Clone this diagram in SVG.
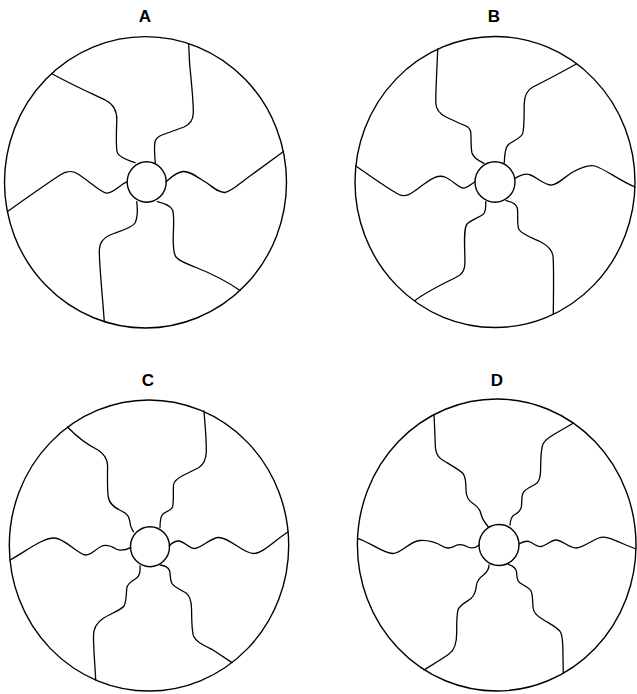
<svg xmlns="http://www.w3.org/2000/svg" width="637" height="694" viewBox="0 0 637 694">
<style>
.o{fill:none;stroke:#000;stroke-width:1.4}
.s{fill:none;stroke:#000;stroke-width:1.3;stroke-linecap:round;stroke-linejoin:round}
.l{font-family:"Liberation Sans",Arial,sans-serif;font-weight:bold;font-size:17px;text-anchor:middle;fill:#000}
</style>
<rect width="637" height="694" fill="#fff"/>
<g id="panelA">
<text class="l" x="145" y="22">A</text>
<ellipse class="o" cx="145.5" cy="182.3" rx="141" ry="145.7"/>
<ellipse class="o" cx="146.7" cy="182" rx="19.5" ry="20.2"/>
<g id="spokesA">
<path class="s" d="M155.3,162.7 C154.6,155 154,147 155,142 C156,138 158,136.5 162,135 L184,127 C189,125 193,121 193.3,113 C193.5,100 191,80 189.5,62 L188.7,43.8"/>
<path class="s" d="M166,181.7 C170,178.5 176,172 183,171.5 C190,171 197,177 207,183 C214,188 219,193 225,192.5 C231,192 240,183 250,176 L283.5,151.5"/>
<path class="s" d="M157.3,201.7 C163,203 170,205 172.5,210 C174.5,215 173.5,225 173.3,235 C173,245 173,253 176,257 C179,261 186,263.5 195,267 C210,273 225,280 240,290.5"/>
<path class="s" d="M136.7,201.7 C137.5,208 137.5,218 135,223 C132,228 120,231 110,235 C103,238 99.5,242 99.3,250 C99.2,265 102,290 104.3,321.6"/>
<path class="s" d="M127.3,181.7 C121,184 113,193.5 107,193.2 C101,193 88,180 78,174 C71,170 66,171 60,175 C45,185 25,199 7.5,211.5"/>
<path class="s" d="M135,162.7 C128,160 120,158 117.5,153 C115.5,148 116.5,130 116.8,120 C117,110 113,104 106,100.5 C95,95 70,84 51.7,73.5"/>
</g>
</g>
<g id="panelB">
<text class="l" x="494" y="22">B</text>
<ellipse class="o" cx="495" cy="182" rx="140" ry="145.5"/>
<ellipse class="o" cx="495" cy="182" rx="20" ry="20.3"/>
<g id="spokesB">
<path class="s" d="M484,163.3 C479,161 473.5,158 472,153 C470.5,147 471.5,135 470.5,131 C469.5,127 466,126 460,123.5 L446,117 C440,114 436,110 435.8,103 C435.6,90 437,70 437.7,49"/>
<path class="s" d="M504.3,162.7 C504.6,156 504.5,149 508,145 C512,141 520,139 522.5,134 C524.5,129 524,115 524.2,104 C524.4,95 527,90 533,87 C545,81 562,72 576.7,63.8"/>
<path class="s" d="M515,178.3 C519,176 524,173 529,174.5 C535,176 543,184 550,185 C556,186 562,179 572,172.5 C580,168 588,164 595,166 C605,169 620,181 634.9,187"/>
<path class="s" d="M506,200.7 C511,201.5 516,203 517.3,208 C518.5,213 516.5,225 519,229.5 C521.5,234 530,237 540,241.5 C547,245 552,249 553,256 C554,265 553.5,290 553.3,314.3"/>
<path class="s" d="M485.7,201.7 C486,207 486,212 483,214.5 C479,217.5 471,220 467,224 C464,228 464.3,240 464.8,255 C465.2,266 465,271 460,275 C452,280 430,289 415,300.5"/>
<path class="s" d="M475,181.7 C471,184 467,188.5 463,188 C458,187 452,180 445,177 C437,174 430,180 420,187 C412,193 406,198 399,194.5 C390,190 372,177 355.8,166"/>
</g>
</g>
<g id="panelC">
<text class="l" x="148" y="386">C</text>
<ellipse class="o" cx="149" cy="545.5" rx="139.7" ry="145.5"/>
<ellipse class="o" cx="150" cy="546.7" rx="19.5" ry="20"/>
<g id="spokesC">
<path class="s" d="M160,527.7 C160,522 160,516.5 163,514 C166,511 171,511 172.5,507 C174,502 173,490 173.5,485 C174,481 177,478.5 183,475.5 L199,467.5 C204,464 206,459 206.3,452 C206.6,440 205,425 204,411"/>
<path class="s" d="M169.3,545.7 C172,543 175,541 178.5,541 C184,541 189,548.5 194.5,548.5 C201,548.5 211,537.5 218.5,537.5 C230,537.5 243,553.5 253.5,553.5 C263,553.5 275,540 288.2,531.7"/>
<path class="s" d="M160,565 C164,565.5 168.5,567 169.7,571 C170.5,575 170,580 172,583.5 C174,587 181,590 186,593 C190,596 191.3,601 191.5,608 C191.8,618 191.5,630 193.5,636 C196,642 203,645 213,650 L232,662.6"/>
<path class="s" d="M140,566 C140.5,571 140,576 136,578.5 C132,581 127.5,583 126.8,588 C126.2,594 126.5,602 124,606 C121,610 110,614 103,618.5 C96,623 93.5,628 93.5,636 C93.5,650 95,665 95.7,680"/>
<path class="s" d="M130.7,547.7 C126,550 121,551.5 116,549 C112,546.5 106,544 101,546.5 C96,549 91,555 86,555 C78,555 65,538 54,538 C42,538 25,552 10,560"/>
<path class="s" d="M133.3,531.7 C131,528 129.8,524 129.5,520 C129,516 126,513 121.5,511 C116,508.5 110,505 108.5,498 C107,492 107.5,478 107.6,466 C107.7,459 104,454 98,450 C90,446 78,438 67.5,427"/>
</g>
</g>
<g id="panelD">
<text class="l" x="497" y="386">D</text>
<ellipse class="o" cx="496.7" cy="545" rx="139.3" ry="146"/>
<ellipse class="o" cx="499" cy="545" rx="20" ry="20.5"/>
<g id="spokesD">
<path class="s" d="M488.3,526.7 C485,523 482,519 481,514 C480,509 477,506 473,503.5 C469,501 466,497 466,490 C466,484 466,477 463,473.5 C460,470 448,463.5 441,459 C437,456 435.5,452 435.3,446 C435,435 434.5,425 434,414.6"/>
<path class="s" d="M510,525 C510.3,521 511,517 514,515 C518,513 521,511 521.5,506 C522,501 521,495 524,491.5 C527,488 533,486 537,483 C540,480 540.5,476 540.6,470 C540.8,460 540.5,450 543,444 C546,438 555,434 573.5,423"/>
<path class="s" d="M519,544 C522,542 525,540.5 529,541.5 C533,543 537,547 541,546.5 C546,546 551,540 556,540 C562,540 569,548 576,548 C583,548 592,540 600,537.5 C607,535.5 620,543 636,549"/>
<path class="s" d="M508.3,564.3 C512,565.5 516,567.5 516.6,572 C517,577 516.5,580 519.5,582.5 C523,585.5 529,587 531,591 C533,595 532.5,602 533,607 C533.5,613 537,616 543,619.5 C550,624 557,627 560.5,632 C563,637 562.8,645 562.9,652 L563.3,673.2"/>
<path class="s" d="M489,565 C489,569 487,572 484,574.5 C480,577.5 477,580 476.5,585 C476,590 475,595 471,598.5 C467,602 460,604 458,610 C456.5,616 456.7,625 456.7,633 C456.7,642 455,650 449,654 C442,659 432,665 424,670"/>
<path class="s" d="M479.3,545 C476,547.5 472,549 468,547 C464,545 460,543.5 456,545.5 C452,547.5 448,549.5 443,546.5 C437,543 428,540 420,540.5 C410,541 402,553 393,553.5 C384,554 372,543 357.4,538.3"/>
</g>
</g>
</svg>
